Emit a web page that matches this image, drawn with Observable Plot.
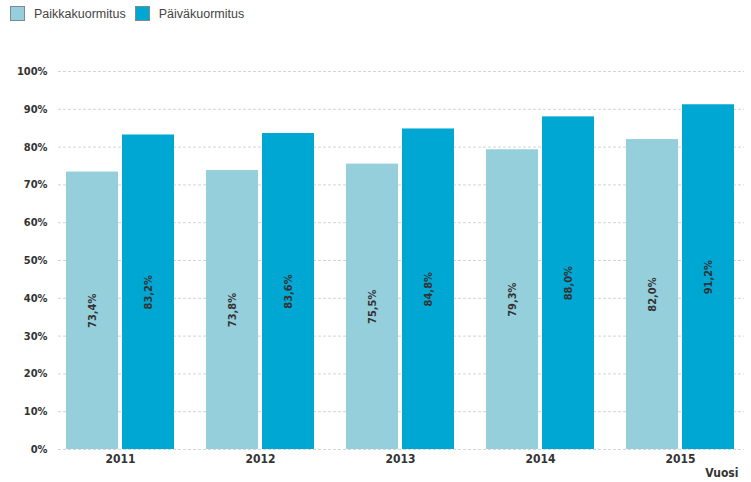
<!DOCTYPE html>
<html>
<head>
<meta charset="utf-8">
<script src="https://cdn.jsdelivr.net/npm/d3@7"></script>
<script src="https://cdn.jsdelivr.net/npm/@observablehq/plot@0.6"></script>
<style>
  html, body { margin: 0; padding: 0; background: #fff; }
  #legend { height: 30px; display: flex; align-items: center; padding-left: 10px; font-family: "Liberation Sans", Arial, sans-serif; font-size: 12.5px; color: #444; box-sizing: border-box; padding-bottom: 3px; }
  .sw { width: 13px; height: 13px; border: 1px solid #7f8a8f; margin-right: 9px; box-sizing: content-box; }
  .item { display: flex; align-items: center; margin-right: 9px; }
  svg { display: block; }
  svg text { font-stretch: condensed; }
</style>
</head>
<body>
<div id="legend"></div>
<div id="chart"></div>
<script>
const years = ["2011", "2012", "2013", "2014", "2015"];
const series = ["Paikkakuormitus", "Päiväkuormitus"];
const paikkakuormitus = [73.4, 73.8, 75.5, 79.3, 82.0];
const paivakuormitus = [83.2, 83.6, 84.8, 88.0, 91.2];
const yTicks = [0, 10, 20, 30, 40, 50, 60, 70, 80, 90, 100];
const colors = ["#95cfdc", "#00a7d3"];

const rows = (vals) => years.map((year, i) => ({year, value: vals[i]}));
const dataP = rows(paikkakuormitus);
const dataD = rows(paivakuormitus);

const legend = document.getElementById("legend");
series.forEach((s, i) => {
  const it = document.createElement("div");
  it.className = "item";
  it.innerHTML = `<span class="sw" style="background:${colors[i]}"></span><span>${s}</span>`;
  legend.appendChild(it);
});

const font = '"DejaVu Sans Condensed", "DejaVu Sans", sans-serif';
const fmt = v => v.toFixed(1).replace(".", ",") + "%";

const chart = Plot.plot({
  width: 751,
  height: 452,
  marginLeft: 58,
  marginRight: 7,
  marginTop: 41,
  marginBottom: 33,
  style: {fontFamily: font, fontSize: "12px", color: "#333", background: "#fff"},
  x: {domain: years, range: [50, 750], padding: 0},
  y: {domain: [0, 100]},
  marks: [
    Plot.ruleY(yTicks, {stroke: "#d4d4d4", strokeDasharray: "3,2"}),
    Plot.axisY({ticks: yTicks, tickFormat: d => d + "%", tickSize: 0, tickPadding: 11, fontWeight: "bold", fontSize: 11, label: null}),
    Plot.axisX({anchor: "bottom", tickSize: 0, tickPadding: 5, fontWeight: "bold", label: null}),
    Plot.text(["Vuosi"], {text: d => d, frameAnchor: "bottom-right", dx: -6, dy: 27, fontWeight: "bold", fill: "#333"}),
    Plot.barY(dataP, {x: "year", y: "value", fill: colors[0], insetLeft: 16, insetRight: 72}),
    Plot.barY(dataD, {x: "year", y: "value", fill: colors[1], insetLeft: 72, insetRight: 16}),
    Plot.text(dataP, {x: "year", y: d => d.value / 2, dx: -28, text: d => fmt(d.value), rotate: -90, fill: "#333", fontWeight: "bold", fontSize: 11}),
    Plot.text(dataD, {x: "year", y: d => d.value / 2, dx: 28, text: d => fmt(d.value), rotate: -90, fill: "#333", fontWeight: "bold", fontSize: 11})
  ]
});
document.getElementById("chart").appendChild(chart);
</script>
</body>
</html>
